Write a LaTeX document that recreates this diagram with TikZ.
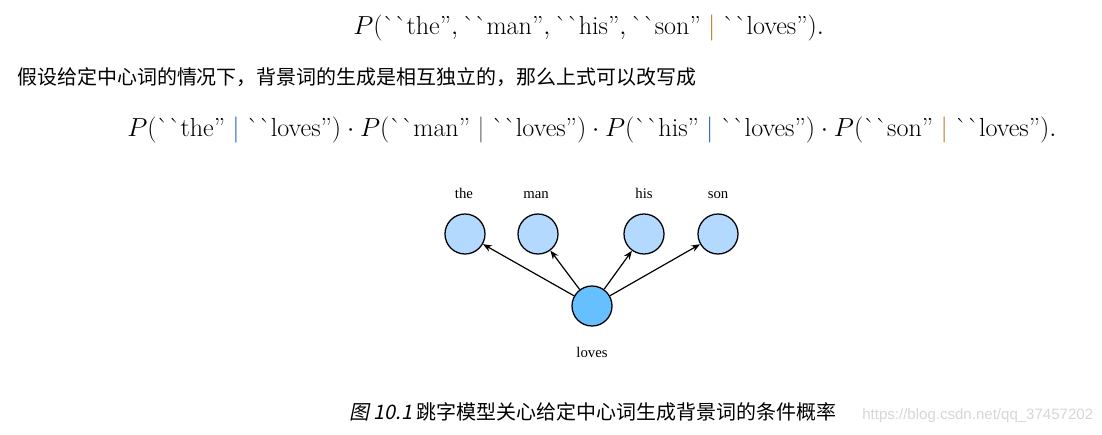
\documentclass[tikz,border=0pt]{standalone}
\usepackage{amsmath}
\usepackage{fontspec}
\usepackage{xcolor}
\usepackage{tikz}
\usetikzlibrary{arrows.meta, positioning}
\newfontfamily\cjkfont{Noto Sans CJK SC}
\newfontfamily\cjkslant[FakeSlant=0.2]{Noto Sans CJK SC}
\newfontfamily\figfont{Liberation Serif}
\newfontfamily\markfont{Liberation Sans}
\definecolor{wordblue}{RGB}{179, 217, 255}
\definecolor{centerblue}{RGB}{102, 191, 255}
\definecolor{barorange}{RGB}{190, 120, 40}
\definecolor{barblue}{RGB}{40, 90, 200}
\definecolor{bargray}{RGB}{90, 90, 90}
\definecolor{markgray}{RGB}{215, 215, 215}
\newcommand{\qword}[1]{\mbox{\textasciigrave\textasciigrave #1''}}
\tikzstyle{word} = [circle, draw=black, fill=wordblue, minimum size=1cm, inner sep=0pt, line width=0.9pt]
\tikzstyle{centerword} = [circle, draw=black, fill=centerblue, minimum size=1cm, inner sep=0pt, line width=0.9pt]
\tikzstyle{wordlabel} = [anchor=base, inner sep=0pt, font=\figfont\fontsize{10.5}{12}\selectfont]
\tikzstyle{formula} = [anchor=base west, inner sep=0pt, scale=1.075, transform shape, font=\fontsize{17.28}{20}\selectfont]
\tikzstyle{bodytext} = [anchor=base west, inner sep=0pt, font=\cjkfont\fontsize{14.2}{16}\selectfont]
\tikzstyle{arrow} = [-{Stealth[length=2.2mm, width=1.7mm]}, line width=0.85pt]

\begin{document}
\begin{tikzpicture}[x=0.025cm, y=-0.025cm]
    % Page
    \fill[white] (0,0) rectangle (1102,434);
    \useasboundingbox (0,0) rectangle (1102,434);

    % Joint probability
    \node[formula] (joint) at (353,34) {$P(\qword{the}, \qword{man}, \qword{his}, \qword{son} \mathrel{\color{barorange}|} \qword{loves}).$};

    % Sentence
    \node[bodytext] (intro) at (17,84) {假设给定中心词的情况下，背景词的生成是相互独立的，那么上式可以改写成};

    % Factorised probability
    \node[formula] (product) at (127,136) {$P(\qword{the} \mathrel{\color{barblue}|} \qword{loves}) \cdot P(\qword{man} \mathrel{\color{bargray}|} \qword{loves}) \cdot P(\qword{his} \mathrel{\color{barblue}|} \qword{loves}) \cdot P(\qword{son} \mathrel{\color{barorange}|} \qword{loves}).$};

    % Context words
    \node[word] (the) at (465,234) {};
    \node[word] (man) at (538,234) {};
    \node[word] (his) at (644,234) {};
    \node[word] (son) at (718,234) {};
    \node[wordlabel] (the-text) at (464,198) {the};
    \node[wordlabel] (man-text) at (536,198) {man};
    \node[wordlabel] (his-text) at (644,198) {his};
    \node[wordlabel] (son-text) at (718,198) {son};

    % Center word
    \node[centerword] (loves) at (592,306) {};
    \node[wordlabel] (loves-text) at (592,357) {loves};

    % Arrows
    \draw[arrow] (loves) -- (the);
    \draw[arrow] (loves) -- (man);
    \draw[arrow] (loves) -- (his);
    \draw[arrow] (loves) -- (son);

    % Caption
    \node[bodytext] (caption) at (349,419) {{\cjkslant 图 10.1} 跳字模型关心给定中心词生成背景词的条件概率};
    \node[anchor=base west, inner sep=0pt, text=markgray, font=\markfont\fontsize{10.7}{12}\selectfont] (mark) at (862,419) {https://blog.csdn.net/qq\_37457202};
\end{tikzpicture}
\end{document}
